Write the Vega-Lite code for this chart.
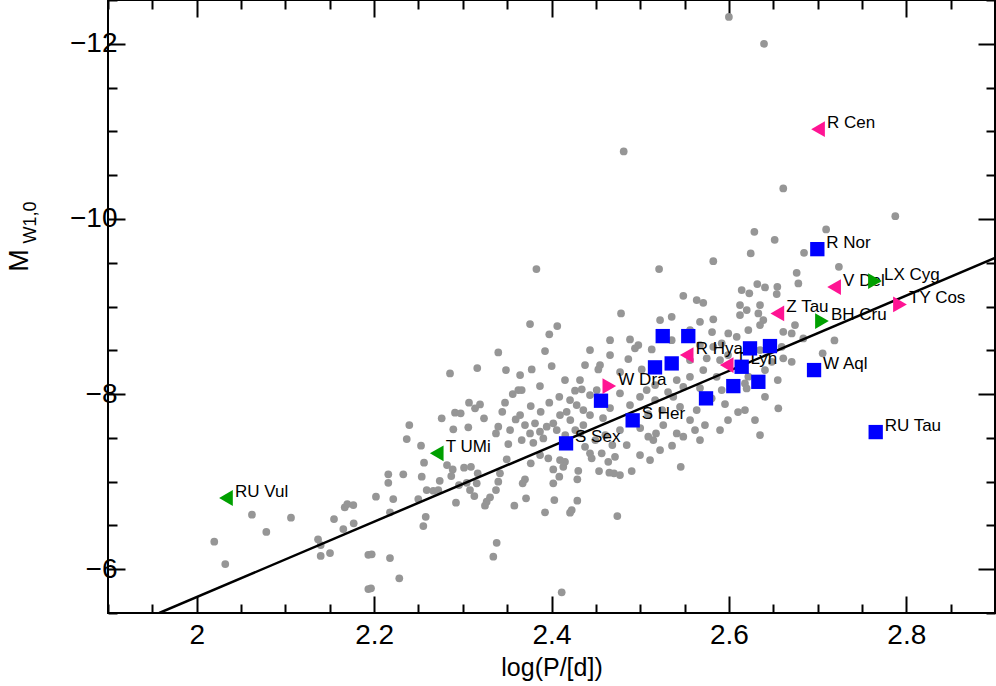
{
 "$schema": "https://vega.github.io/schema/vega-lite/v6.json",
 "width": 887, "height": 613,
 "autosize": {"type": "none"},
 "padding": {"left": 108, "top": 0, "right": 1, "bottom": 73},
 "background": "white",
 "config": {
  "view": {"stroke": "black", "strokeWidth": 2},
  "axis": {"grid": false, "domain": false, "tickColor": "black", "tickWidth": 2, "labelColor": "black", "titleColor": "black", "labelFont": "Liberation Sans", "titleFont": "Liberation Sans", "labelFontSize": 28, "titleFontSize": 26, "titleFontWeight": "normal"}
 },
 "datasets": {
  "grey": [
   {"logP":2.0623,"M":-6.622},{"logP":2.1063,"M":-6.588},{"logP":2.0785,"M":-6.425},{"logP":2.0198,"M":-6.314},{"logP":2.0322,"M":-6.059},{"logP":2.1368,"M":-6.341},{"logP":2.1398,"M":-6.276},{"logP":2.1398,"M":-6.151},{"logP":2.1503,"M":-6.185},{"logP":2.1548,"M":-6.573},{"logP":2.1653,"M":-6.459},{"logP":2.1770,"M":-6.524},{"logP":2.1669,"M":-6.707},{"logP":2.1698,"M":-6.744},{"logP":2.1766,"M":-6.733},{"logP":2.1935,"M":-6.165},{"logP":2.1935,"M":-5.774},
   {"logP":2.2397,"M":-7.646},{"logP":2.2368,"M":-7.486},{"logP":2.2529,"M":-7.410},{"logP":2.2563,"M":-7.216},{"logP":2.2822,"M":-7.189},{"logP":2.2160,"M":-7.083},{"logP":2.2160,"M":-6.987},{"logP":2.2329,"M":-7.083},{"logP":2.2537,"M":-7.056},{"logP":2.2740,"M":-7.010},{"logP":2.2886,"M":-7.140},{"logP":2.3014,"M":-7.159},{"logP":2.3092,"M":-7.170},{"logP":2.3168,"M":-7.095},{"logP":2.2870,"M":-7.064},{"logP":2.2957,"M":-6.961},{"logP":2.3044,"M":-6.987},{"logP":2.3081,"M":-6.904},{"logP":2.3130,"M":-6.836},{"logP":2.3157,"M":-6.981},{"logP":2.2593,"M":-6.904},{"logP":2.2667,"M":-6.896},{"logP":2.2724,"M":-6.904},{"logP":2.2021,"M":-6.828},{"logP":2.2216,"M":-6.801},{"logP":2.2498,"M":-6.801},{"logP":2.2179,"M":-6.650},{"logP":2.2923,"M":-6.759},{"logP":2.2582,"M":-6.599},{"logP":2.2555,"M":-6.493},{"logP":2.3269,"M":-6.771},{"logP":2.3250,"M":-6.725},{"logP":2.3307,"M":-6.821},{"logP":2.3374,"M":-6.904},{"logP":2.3400,"M":-6.999},{"logP":2.3419,"M":-7.095},{"logP":2.3495,"M":-7.255},{"logP":2.3581,"M":-6.725},{"logP":2.3382,"M":-6.302},{"logP":2.3344,"M":-6.143},{"logP":2.1973,"M":-6.170},{"logP":2.2179,"M":-6.128},{"logP":2.2284,"M":-5.896},{"logP":2.1965,"M":-5.782},{"logP":2.2893,"M":-7.597},{"logP":2.3062,"M":-7.620},{"logP":2.3400,"M":-7.627},{"logP":2.3374,"M":-7.551},{"logP":2.3513,"M":-7.429},
   {"logP":2.3400,"M":-8.476},{"logP":2.3163,"M":-8.297},{"logP":2.2856,"M":-8.236},{"logP":2.3487,"M":-8.274},{"logP":2.3563,"M":-8.000},{"logP":2.3626,"M":-8.046},{"logP":2.3476,"M":-7.901},{"logP":2.3445,"M":-7.798},{"logP":2.3070,"M":-7.901},{"logP":2.3194,"M":-7.882},{"logP":2.3138,"M":-7.837},{"logP":2.2912,"M":-7.787},{"logP":2.2976,"M":-7.780},{"logP":2.2762,"M":-7.723},{"logP":2.3239,"M":-7.723},{"logP":2.3596,"M":-7.711},
   {"logP":2.3766,"M":-7.209},{"logP":2.3713,"M":-6.809},{"logP":2.3701,"M":-7.026},{"logP":2.3675,"M":-6.981},{"logP":2.4020,"M":-7.140},{"logP":2.4020,"M":-6.981},{"logP":2.4088,"M":-7.056},{"logP":2.4032,"M":-6.790},{"logP":2.3927,"M":-6.650},{"logP":2.4209,"M":-6.645},{"logP":2.4228,"M":-6.676},{"logP":2.4291,"M":-6.782},{"logP":2.4291,"M":-7.026},{"logP":2.4302,"M":-7.124},{"logP":2.4133,"M":-7.170},{"logP":2.4152,"M":-7.227},{"logP":2.4096,"M":-7.247},{"logP":2.3964,"M":-7.266},{"logP":2.3795,"M":-7.444},{"logP":2.3758,"M":-7.551},{"logP":2.3664,"M":-7.475},{"logP":2.3870,"M":-7.570},{"logP":2.3908,"M":-7.494},{"logP":2.3946,"M":-7.627},{"logP":2.4020,"M":-7.666},{"logP":2.4059,"M":-7.589},{"logP":2.3701,"M":-7.646},{"logP":2.3814,"M":-7.666},{"logP":2.4359,"M":-7.646},{"logP":2.4321,"M":-7.551},{"logP":2.4378,"M":-7.398},{"logP":2.4434,"M":-7.323},{"logP":2.4453,"M":-7.266},{"logP":2.4566,"M":-7.323},{"logP":2.4640,"M":-7.227},{"logP":2.4716,"M":-7.284},{"logP":2.4536,"M":-7.121},{"logP":2.4652,"M":-7.102},{"logP":2.4705,"M":-7.095},{"logP":2.4772,"M":-7.075},{"logP":2.4904,"M":-7.121},{"logP":2.4742,"M":-6.607},{"logP":2.5457,"M":-7.170},{"logP":2.5359,"M":-7.410},{"logP":2.5486,"M":-7.513},{"logP":2.5412,"M":-7.551},{"logP":2.5618,"M":-7.589},{"logP":2.5148,"M":-7.475},{"logP":2.5091,"M":-7.513},{"logP":2.5178,"M":-7.551},{"logP":2.4848,"M":-7.418},{"logP":2.4772,"M":-7.589},{"logP":2.5260,"M":-7.646},{"logP":2.4115,"M":-5.736},
   {"logP":2.4784,"M":-8.921},{"logP":2.3758,"M":-8.799},{"logP":2.4065,"M":-8.776},{"logP":2.3975,"M":-8.682},{"logP":2.4660,"M":-8.616},{"logP":2.4885,"M":-8.624},{"logP":2.4979,"M":-8.559},{"logP":2.4941,"M":-8.522},{"logP":2.3927,"M":-8.491},{"logP":2.4866,"M":-8.400},{"logP":2.4547,"M":-8.331},{"logP":2.4528,"M":-8.282},{"logP":2.3777,"M":-8.282},{"logP":2.4002,"M":-8.320},{"logP":2.5017,"M":-8.282},{"logP":2.5130,"M":-8.510},{"logP":2.4321,"M":-8.160},{"logP":2.3870,"M":-8.091},{"logP":2.4510,"M":-8.046},{"logP":2.4265,"M":-8.038},{"logP":2.4341,"M":-8.054},{"logP":2.4088,"M":-7.969},{"logP":2.3975,"M":-7.901},{"logP":2.3766,"M":-7.863},{"logP":2.3878,"M":-7.798},{"logP":2.3664,"M":-8.046},{"logP":2.4209,"M":-7.932},{"logP":2.4284,"M":-7.874},{"logP":2.4359,"M":-7.817},{"logP":2.4772,"M":-8.008},{"logP":2.4885,"M":-7.874},{"logP":2.4998,"M":-7.969},{"logP":2.5073,"M":-8.046},{"logP":2.4171,"M":-7.798},{"logP":2.4434,"M":-7.760},
   {"logP":2.5486,"M":-9.122},{"logP":2.5637,"M":-9.073},{"logP":2.5711,"M":-9.042},{"logP":2.6144,"M":-9.187},{"logP":2.6230,"M":-9.150},{"logP":2.6320,"M":-9.256},{"logP":2.6407,"M":-9.218},{"logP":2.6546,"M":-9.225},{"logP":2.6539,"M":-9.142},{"logP":2.6125,"M":-9.016},{"logP":2.6201,"M":-8.959},{"logP":2.6351,"M":-9.016},{"logP":2.6332,"M":-8.921},{"logP":2.6388,"M":-8.845},{"logP":2.6351,"M":-8.788},{"logP":2.6125,"M":-8.902},{"logP":2.5824,"M":-8.853},{"logP":2.5674,"M":-8.825},{"logP":2.5355,"M":-8.882},{"logP":2.5993,"M":-8.693},{"logP":2.6088,"M":-8.654},{"logP":2.5919,"M":-8.579},{"logP":2.6219,"M":-8.731},{"logP":2.6613,"M":-8.711},{"logP":2.6708,"M":-8.693},{"logP":2.6745,"M":-8.788},{"logP":2.6839,"M":-8.636},{"logP":2.6595,"M":-8.540},{"logP":2.6613,"M":-8.408},{"logP":2.6708,"M":-8.369},{"logP":2.6483,"M":-8.369},{"logP":2.6219,"M":-8.198},{"logP":2.6181,"M":-8.122},{"logP":2.6200,"M":-8.065},{"logP":2.6407,"M":-7.969},{"logP":2.6557,"M":-7.837},{"logP":2.6783,"M":-9.264},{"logP":2.5824,"M":-8.540},{"logP":2.5750,"M":-8.408},{"logP":2.5711,"M":-8.274},{"logP":2.5561,"M":-8.197},{"logP":2.5486,"M":-8.083},{"logP":2.5862,"M":-8.197},{"logP":2.5919,"M":-8.046},{"logP":2.5806,"M":-7.951},{"logP":2.5637,"M":-7.817},{"logP":2.5449,"M":-7.855},{"logP":2.5373,"M":-7.969},{"logP":2.5412,"M":-8.160},{"logP":2.5561,"M":-8.388},
   {"logP":2.383,"M":-9.427},{"logP":2.5213,"M":-9.427},{"logP":2.6613,"M":-10.348},{"logP":2.7876,"M":-10.032},{"logP":2.6287,"M":-9.853},{"logP":2.7096,"M":-9.880},{"logP":2.6516,"M":-9.761},{"logP":2.6246,"M":-9.606},{"logP":2.6847,"M":-9.613},{"logP":2.5824,"M":-9.518},{"logP":2.7240,"M":-9.453},{"logP":2.6764,"M":-9.385},{"logP":2.719,"M":-8.613},{"logP":2.7057,"M":-8.465},{"logP":2.600,"M":-12.307},{"logP":2.6396,"M":-12.0},{"logP":2.4814,"M":-10.771},
   {"logP":2.5168,"M":-7.932},{"logP":2.5247,"M":-7.817},{"logP":2.5089,"M":-7.772},{"logP":2.4660,"M":-7.840},{"logP":2.4581,"M":-7.726},{"logP":2.5314,"M":-8.023},{"logP":2.5674,"M":-8.068},{"logP":2.5956,"M":-7.886},{"logP":2.6103,"M":-7.795},{"logP":2.6294,"M":-7.703},{"logP":2.5730,"M":-7.646},{"logP":2.5000,"M":-7.612},{"logP":2.4434,"M":-7.989},{"logP":2.4096,"M":-7.760},{"logP":2.4660,"M":-8.445},{"logP":2.4773,"M":-8.251},{"logP":2.5168,"M":-8.103},{"logP":2.5355,"M":-8.616},{"logP":2.5674,"M":-8.559},{"logP":2.5810,"M":-8.708},{"logP":2.5990,"M":-8.445},{"logP":2.6407,"M":-8.274},{"logP":2.6551,"M":-8.160},{"logP":2.6351,"M":-8.502},
   {"logP":2.4212,"M":-7.703},{"logP":2.4268,"M":-7.589},{"logP":2.4155,"M":-7.532},{"logP":2.4494,"M":-7.475},{"logP":2.4607,"M":-7.532},{"logP":2.4686,"M":-7.418},{"logP":2.4998,"M":-7.304},{"logP":2.5111,"M":-7.247},{"logP":2.5224,"M":-7.361},{"logP":2.5562,"M":-7.703},{"logP":2.5674,"M":-7.475},{"logP":2.5900,"M":-7.589},{"logP":2.5990,"M":-7.703},{"logP":2.6181,"M":-7.817},{"logP":2.6351,"M":-7.532},{"logP":2.3646,"M":-7.760},{"logP":2.3533,"M":-7.589},{"logP":2.3871,"M":-7.304},{"logP":2.4378,"M":-8.331},{"logP":2.4434,"M":-8.502},{"logP":2.4152,"M":-8.160},{"logP":2.3646,"M":-8.217},{"logP":2.5224,"M":-8.845},{"logP":2.5562,"M":-8.731},{"logP":2.5900,"M":-8.388}
  ],
  "fit": [{"logP": 1.9578, "M": -5.5}, {"logP": 2.9, "M": -9.556}],
  "stars": [
   {"name":"R Nor","logP":2.6997,"M":-9.655,"grp":"A","dir":"square"},
   {"name":"W Aql","logP":2.6960,"M":-8.274,"grp":"A","dir":"square"},
   {"name":"RU Tau","logP":2.7655,"M":-7.566,"grp":"A","dir":"square"},
   {"name":"S Sex","logP":2.4164,"M":-7.437,"grp":"A","dir":"square"},
   {"name":"S Her","logP":2.4915,"M":-7.70,"grp":"A","dir":"square"},
   {"name":"","logP":2.5254,"M":-8.662,"grp":"A","dir":"square"},
   {"name":"","logP":2.5542,"M":-8.662,"grp":"A","dir":"square"},
   {"name":"","logP":2.5167,"M":-8.305,"grp":"A","dir":"square"},
   {"name":"","logP":2.5355,"M":-8.350,"grp":"A","dir":"square"},
   {"name":"","logP":2.6238,"M":-8.522,"grp":"A","dir":"square"},
   {"name":"","logP":2.6463,"M":-8.548,"grp":"A","dir":"square"},
   {"name":"","logP":2.6144,"M":-8.312,"grp":"A","dir":"square"},
   {"name":"","logP":2.6332,"M":-8.140,"grp":"A","dir":"square"},
   {"name":"","logP":2.6050,"M":-8.091,"grp":"A","dir":"square"},
   {"name":"","logP":2.5742,"M":-7.951,"grp":"A","dir":"square"},
   {"name":"","logP":2.4558,"M":-7.924,"grp":"A","dir":"square"},
   {"name":"R Cen","logP":2.7005,"M":-11.025,"grp":"B","dir":"left"},
   {"name":"V Del","logP":2.7186,"M":-9.222,"grp":"B","dir":"left"},
   {"name":"Z Tau","logP":2.6546,"M":-8.921,"grp":"B","dir":"left"},
   {"name":"R Hya","logP":2.5524,"M":-8.445,"grp":"B","dir":"left"},
   {"name":"T Lyn","logP":2.5975,"M":-8.331,"grp":"B","dir":"left"},
   {"name":"W Dra","logP":2.4652,"M":-8.091,"grp":"B","dir":"right"},
   {"name":"TY Cos","logP":2.7929,"M":-9.024,"grp":"B","dir":"right"},
   {"name":"RU Vul","logP":2.0330,"M":-6.813,"grp":"C","dir":"left"},
   {"name":"T UMi","logP":2.2706,"M":-7.323,"grp":"C","dir":"left"},
   {"name":"LX Cyg","logP":2.7647,"M":-9.290,"grp":"C","dir":"right"},
   {"name":"BH Cru","logP":2.7049,"M":-8.833,"grp":"C","dir":"right"}
  ]
 },
 "layer": [
  {
   "data": {"name": "grey"},
   "mark": {"type": "circle", "size": 60, "color": "#969696", "opacity": 1},
   "encoding": {
    "x": {"field": "logP", "type": "quantitative", "scale": {"domain": [1.9, 2.9], "nice": false, "zero": false},
      "axis": {"orient": "bottom", "values": [2, 2.2, 2.4, 2.6, 2.8], "format": "~g", "tickSize": -17, "labelPadding": 25, "title": "log(P/[d])", "titleFontSize": 25, "titlePadding": 6}},
    "y": {"field": "M", "type": "quantitative", "scale": {"domain": [-5.5, -12.5], "nice": false, "zero": false},
      "axis": {"orient": "left", "values": [-12, -10, -8, -6], "format": "~g", "tickSize": -17, "labelPadding": 8, "title": "M", "titleFontSize": 27, "titleX": -81, "titleY": 260, "titleAngle": -90, "titleAlign": "center", "titleBaseline": "alphabetic"}}
   }
  },
  {
   "data": {"name": "fit"},
   "mark": {"type": "line", "color": "black", "strokeWidth": 2.5, "clip": true},
   "encoding": {
    "x": {"field": "logP", "type": "quantitative", "scale": {"domain": [1.9, 2.9], "nice": false, "zero": false},
      "axis": {"orient": "bottom", "values": [1.9, 1.95, 2.05, 2.1, 2.15, 2.25, 2.3, 2.35, 2.45, 2.5, 2.55, 2.65, 2.7, 2.75, 2.85, 2.9], "labels": false, "tickSize": -9, "title": null}},
    "y": {"field": "M", "type": "quantitative", "scale": {"domain": [-5.5, -12.5], "nice": false, "zero": false},
      "axis": {"orient": "left", "values": [-5.5, -6.5, -7, -7.5, -8.5, -9, -9.5, -10.5, -11, -11.5, -12.5], "labels": false, "tickSize": -9, "title": "W1,0", "titleFontSize": 18, "titleX": -73, "titleY": 222, "titleAngle": -90, "titleAlign": "center", "titleBaseline": "alphabetic"}}
   }
  },
  {
   "data": {"name": "stars"},
   "mark": {"type": "text", "align": "left", "baseline": "middle", "dx": 9, "dy": -6, "fontSize": 17, "font": "Liberation Sans", "color": "black"},
   "encoding": {
    "x": {"field": "logP", "type": "quantitative", "scale": {"domain": [1.9, 2.9], "nice": false, "zero": false}, "axis": null},
    "y": {"field": "M", "type": "quantitative", "scale": {"domain": [-5.5, -12.5], "nice": false, "zero": false}, "axis": null},
    "text": {"field": "name"}
   }
  },
  {
   "data": {"name": "stars"},
   "transform": [{"filter": "datum.grp === 'A'"}],
   "mark": {"type": "square", "size": 205, "color": "#0000ff", "opacity": 1},
   "encoding": {
    "x": {"field": "logP", "type": "quantitative", "scale": {"domain": [1.9, 2.9], "nice": false, "zero": false},
      "axis": {"orient": "top", "values": [2, 2.2, 2.4, 2.6, 2.8], "labels": false, "tickSize": -17, "title": null}},
    "y": {"field": "M", "type": "quantitative", "scale": {"domain": [-5.5, -12.5], "nice": false, "zero": false},
      "axis": {"orient": "right", "values": [-12, -10, -8, -6], "labels": false, "tickSize": -17, "title": null}}
   }
  },
  {
   "data": {"name": "stars"},
   "transform": [{"filter": "datum.grp === 'B'"}],
   "mark": {"type": "point", "filled": true, "size": 250, "color": "#ff1493", "opacity": 1},
   "encoding": {
    "x": {"field": "logP", "type": "quantitative", "scale": {"domain": [1.9, 2.9], "nice": false, "zero": false},
      "axis": {"orient": "top", "values": [1.9, 1.95, 2.05, 2.1, 2.15, 2.25, 2.3, 2.35, 2.45, 2.5, 2.55, 2.65, 2.7, 2.75, 2.85, 2.9], "labels": false, "tickSize": -9, "title": null}},
    "y": {"field": "M", "type": "quantitative", "scale": {"domain": [-5.5, -12.5], "nice": false, "zero": false},
      "axis": {"orient": "right", "values": [-5.5, -6.5, -7, -7.5, -8.5, -9, -9.5, -10.5, -11, -11.5, -12.5], "labels": false, "tickSize": -9, "title": null}},
    "shape": {"field": "dir", "type": "nominal", "scale": {"domain": ["left", "right"], "range": ["triangle-left", "triangle-right"]}, "legend": null}
   }
  },
  {
   "data": {"name": "stars"},
   "transform": [{"filter": "datum.grp === 'C'"}],
   "mark": {"type": "point", "filled": true, "size": 250, "color": "#00a000", "opacity": 1},
   "encoding": {
    "x": {"field": "logP", "type": "quantitative", "scale": {"domain": [1.9, 2.9], "nice": false, "zero": false}, "axis": null},
    "y": {"field": "M", "type": "quantitative", "scale": {"domain": [-5.5, -12.5], "nice": false, "zero": false}, "axis": null},
    "shape": {"field": "dir", "type": "nominal", "scale": {"domain": ["left", "right"], "range": ["triangle-left", "triangle-right"]}, "legend": null}
   }
  }
 ],
 "resolve": {"axis": {"x": "independent", "y": "independent"}}
}
